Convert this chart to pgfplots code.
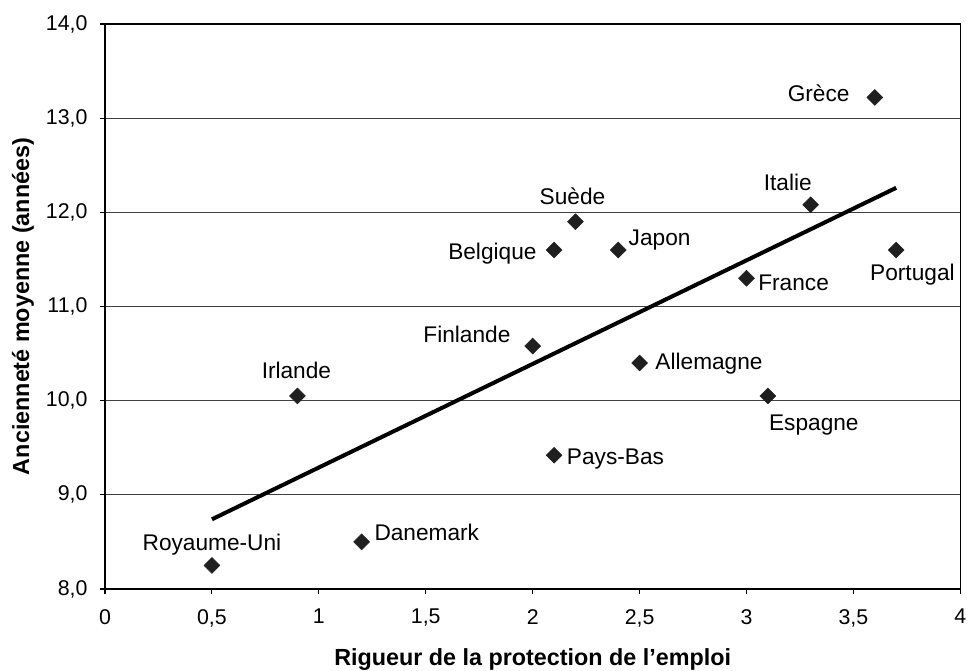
\documentclass[border=0pt]{standalone}
\usepackage{fontspec}
\setmainfont{Liberation Sans}
\usepackage{pgfplots}
\pgfplotsset{compat=1.18}
\begin{document}
\fontsize{17}{20}\selectfont
\begin{tikzpicture}
\begin{axis}[
  scale only axis,
  width=641.5pt, height=423.75pt,
  xmin=0, xmax=4, ymin=8, ymax=14,
  xtick={0,0.5,1,1.5,2,2.5,3,3.5,4}, ytick={8,9,10,11,12,13,14},
  xticklabels={0,{0,5},1,{1,5},2,{2,5},3,{3,5},4},
  yticklabels={{8,0},{9,0},{10,0},{11,0},{12,0},{13,0},{14,0}},
  tick align=outside, tick pos=left,
  major tick length=4pt,
  ymajorgrids, grid style={black!75, line width=0.7pt},
  axis line style={line width=1.1pt},
  every tick/.style={black, line width=0.8pt},
  ticklabel style={font=\fontsize{16}{19}\selectfont, inner sep=0pt},
  xticklabel style={yshift=-11pt},
  yticklabel style={xshift=-9pt},
  xlabel={\fontsize{17.5}{20}\selectfont\bfseries Rigueur de la protection de l’emploi},
  ylabel={\fontsize{17.5}{20}\selectfont\bfseries Ancienneté moyenne (années)},
  xlabel style={at={(rel axis cs:0.5,-0.1245)}, anchor=center, inner sep=0pt},
  ylabel style={at={(rel axis cs:-0.0959,0.5)}, anchor=center, inner sep=0pt},
  clip=false,
]
\addplot[only marks, mark=square*, mark size=4.2pt, mark options={rotate=45, fill=black!88, draw=black!88}] table {
x y
0.5 8.25
1.2 8.50
0.9 10.05
2.1 9.42
2.0 10.58
2.5 10.40
3.1 10.05
2.1 11.60
2.2 11.90
2.4 11.60
3.0 11.30
3.3 12.08
3.6 13.22
3.7 11.60
};
\addplot[black, line width=3pt] table {
x y
0.5 8.74
3.7 12.26
};
\begin{scope}[every node/.style={inner sep=0pt}]
\node[anchor=center] at (axis cs:0.5,8.47) {Royaume-Uni};
\node[anchor=west] at (axis cs:1.259,8.605) {Danemark};
\node[anchor=center] at (axis cs:0.895,10.325) {Irlande};
\node[anchor=west] at (axis cs:2.159,9.38) {Pays-Bas};
\node[anchor=east] at (axis cs:1.897,10.707) {Finlande};
\node[anchor=west] at (axis cs:2.573,10.39) {Allemagne};
\node[anchor=center] at (axis cs:3.315,9.741) {Espagne};
\node[anchor=east] at (axis cs:2.019,11.556) {Belgique};
\node[anchor=center] at (axis cs:2.186,12.172) {Suède};
\node[anchor=west] at (axis cs:2.448,11.705) {Japon};
\node[anchor=west] at (axis cs:3.054,11.248) {France};
\node[anchor=center] at (axis cs:3.193,12.32) {Italie};
\node[anchor=east] at (axis cs:3.483,13.265) {Grèce};
\node[anchor=center] at (axis cs:3.776,11.333) {Portugal};
\end{scope}
\path (rel axis cs:-0.1228,-0.1416) rectangle (rel axis cs:1.0078,1.0425);
\end{axis}
\end{tikzpicture}
\end{document}
